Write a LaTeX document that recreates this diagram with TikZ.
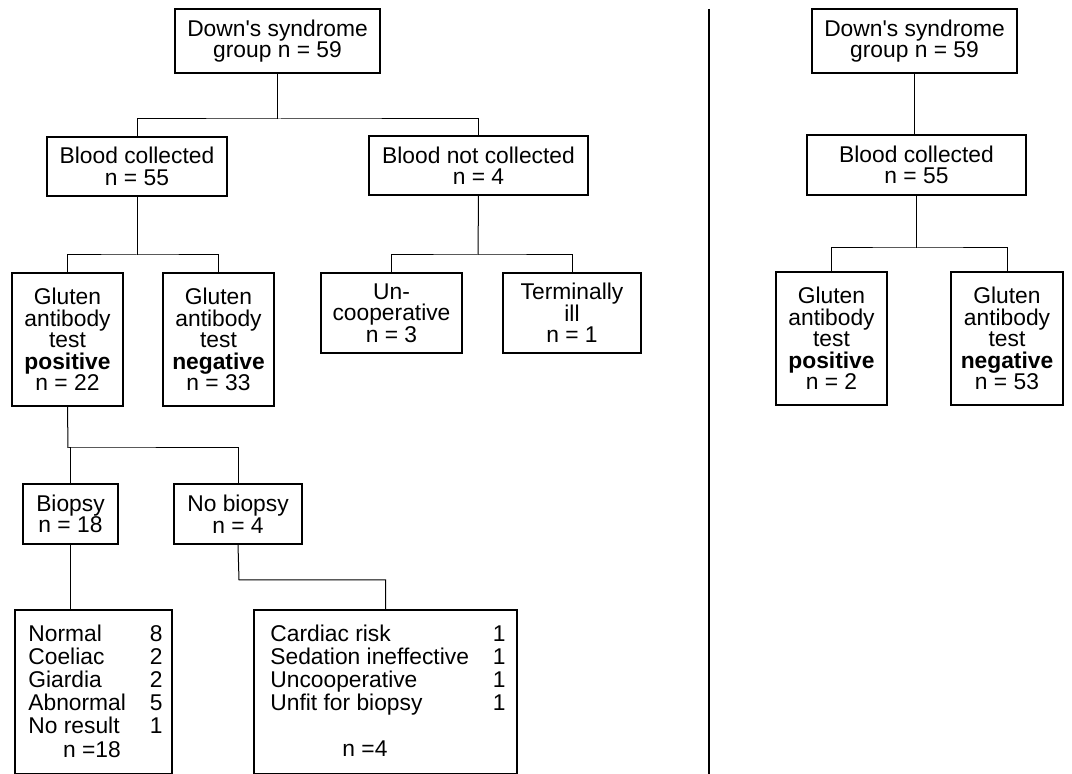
\documentclass[tikz,border=0pt]{standalone}
\usepackage{fontspec}
\setmainfont{Liberation Sans}
\newcommand{\boxfont}{\fontsize{11.4}{10.75}\selectfont}

\tikzset{
  box/.style={draw, line width=0.6pt, inner sep=0pt, align=center, font=\boxfont},
  boxsize/.style 2 args={minimum width=#1*0.5pt, minimum height=#2*0.5pt},
  link/.style={line width=0.5pt},
  listtext/.style={anchor=base west, inner sep=0pt, font=\boxfont},
}

\begin{document}
\begin{tikzpicture}[x=0.5pt,y=-0.5pt]
\useasboundingbox (0,0) rectangle (1072,774);

% left tree
\node[box, boxsize={205}{64}] (top) at (277.5,41) {Down\textquotesingle s syndrome\\group n = 59};
\node[box, boxsize={180}{59}] (bc) at (137,166.5) {Blood collected\\n = 55};
\node[box, boxsize={219}{59}] (bnc) at (478.5,165.5) {Blood not collected\\n = 4};

\node[box, boxsize={111}{133}] (gpos) at (67.5,339.5) {Gluten\\antibody\\test\\\textbf{positive}\\n = 22};
\node[box, boxsize={111}{133}] (gneg) at (218.5,339.5) {Gluten\\antibody\\test\\\textbf{negative}\\n = 33};
\node[box, boxsize={141}{80}] (unc) at (391.5,313) {Un-\\cooperative\\n = 3};
\node[box, boxsize={138}{80}] (term) at (572,313) {Terminally\\ill\\n = 1};

\node[box, boxsize={95}{60}] (bio) at (70.5,514) {Biopsy\\n = 18};
\node[box, boxsize={128}{60}] (nobio) at (238,514) {No biopsy\\n = 4};

\node[box, boxsize={157}{164}] (biores) at (93.5,692) {};
\node[box, boxsize={263}{164}] (reason) at (385.5,692) {};

\node[listtext] (biolist) at (28,642) {\begin{tabular*}{63pt}[t]{@{\extracolsep{\fill}}lr@{}}
Normal & 8\\
Coeliac & 2\\
Giardia & 2\\
Abnormal & 5\\
No result & 1
\end{tabular*}};
\node[anchor=base, inner sep=0pt, font=\boxfont] (bion) at (92,758) {n =18};

\node[listtext] (reasonlist) at (270,642) {\begin{tabular*}{114pt}[t]{@{\extracolsep{\fill}}lr@{}}
Cardiac risk & 1\\
Sedation ineffective & 1\\
Uncooperative & 1\\
Unfit for biopsy & 1
\end{tabular*}};
\node[anchor=base, inner sep=0pt, font=\boxfont] (reasonn) at (365,757) {n =4};

% junctions
\coordinate (j1) at (279,119);
\coordinate (j2) at (137,255);
\coordinate (j3) at (478,255);
\coordinate (j4) at (68,448);
\coordinate (j5) at (239,580);

\draw[link] (top.south) -- (top.south |- j1);
\draw[link] (bc.north) |- (j1) -| (bnc.north);
\draw[link] (bc.south) -- (j2);
\draw[link] (gpos.north) |- (j2) -| (gneg.north);
\draw[link] (bnc.south) -- (j3);
\draw[link] (unc.north) |- (j3) -| (term.north);
\draw[link] (gpos.south) -- (j4);
\draw[link] (bio.north) |- (j4) -| (nobio.north);
\draw[link] (bio.south) -- (bio.south |- biores.north);
\draw[link] (nobio.south) -- (j5) -| (reason.north);

% divider
\coordinate (divtop) at (709,9);
\coordinate (divbot) at (709,774);
\draw[line width=0.8pt] (divtop) -- (divbot);

% right tree
\node[box, boxsize={205}{64}] (top2) at (914.5,41) {Down\textquotesingle s syndrome\\group n = 59};
\node[box, boxsize={219}{60}] (bc2) at (916.5,165) {Blood collected\\n = 55};
\node[box, boxsize={111}{133}] (gpos2) at (831.5,338.5) {Gluten\\antibody\\test\\\textbf{positive}\\n = 2};
\node[box, boxsize={112}{133}] (gneg2) at (1007,338.5) {Gluten\\antibody\\test\\\textbf{negative}\\n = 53};

\coordinate (j6) at (916.5,248);
\draw[link] (top2.south) -- (top2.south |- bc2.north);
\draw[link] (bc2.south) -- (j6);
\draw[link] (gpos2.north) |- (j6) -| (gneg2.north);
\end{tikzpicture}
\end{document}
